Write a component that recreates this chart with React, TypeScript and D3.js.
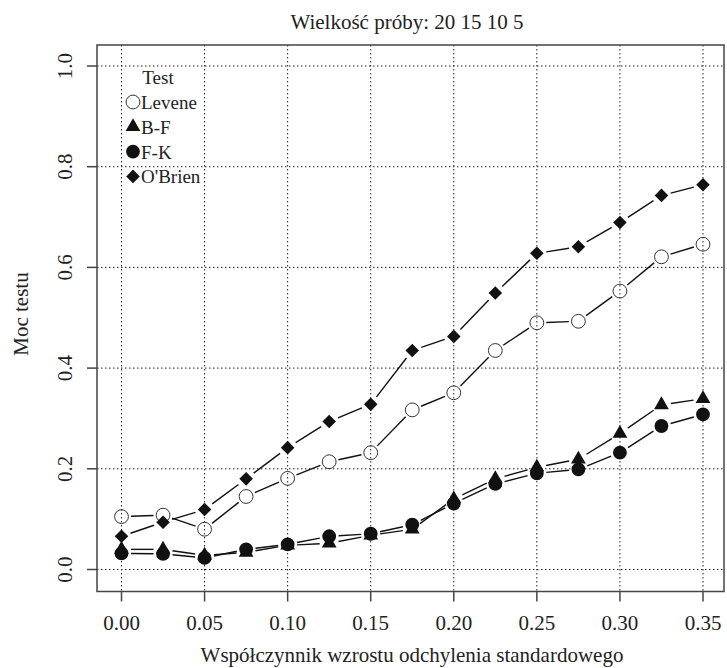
import React, { useEffect, useRef } from 'react';
import * as d3 from 'd3';

// wspolczynnik wzrostu odchylenia (os X)
const coef = [0, 0.025, 0.05, 0.075, 0.1, 0.125, 0.15, 0.175, 0.2, 0.225, 0.25, 0.275, 0.3, 0.325, 0.35];

const levene = [0.105, 0.108, 0.08, 0.145, 0.181, 0.214, 0.232, 0.317, 0.351, 0.435, 0.49, 0.493, 0.553, 0.621, 0.646];
const bf = [0.04, 0.04, 0.028, 0.034, 0.048, 0.052, 0.068, 0.08, 0.14, 0.18, 0.203, 0.219, 0.27, 0.327, 0.339];
const fk = [0.032, 0.031, 0.023, 0.04, 0.05, 0.066, 0.071, 0.089, 0.131, 0.17, 0.191, 0.199, 0.232, 0.285, 0.308];
const obrien = [0.066, 0.094, 0.119, 0.18, 0.242, 0.294, 0.328, 0.435, 0.463, 0.549, 0.628, 0.641, 0.689, 0.743, 0.764];

const xTicks = [0, 0.05, 0.1, 0.15, 0.2, 0.25, 0.3, 0.35];
const yTicks = [0, 0.2, 0.4, 0.6, 0.8, 1.0];

const seriesNames = ['Levene', 'B-F', 'F-K', "O'Brien"];
const seriesValues = [levene, bf, fk, obrien];
const seriesSymbols = ['circleOpen', 'triangle', 'circle', 'diamond'];

const FONT = "'Liberation Serif', 'Times New Roman', Times, serif";

function symbolPath(kind) {
  if (kind === 'triangle') return d3.symbol(d3.symbolTriangle, 95)();
  if (kind === 'diamond') return d3.symbol(d3.symbolSquare, 92)();
  return d3.symbol(d3.symbolCircle, 150)();
}

function App() {
  const ref = useRef(null);

  useEffect(() => {
    const svg = d3.select(ref.current);
    svg.selectAll('*').remove();

    const box = { left: 97, right: 724, top: 45, bottom: 591.5 };
    const x = d3.scaleLinear().domain([0, 0.35]).range([121.5, 703]);
    const y = d3.scaleLinear().domain([0, 1]).range([569.5, 66]);

    // siatka
    const grid = svg.append('g').attr('stroke', '#222').attr('stroke-width', 1).attr('stroke-dasharray', '1.5,2.5');
    grid.selectAll('line.gx').data(xTicks).enter().append('line')
      .attr('x1', d => x(d)).attr('x2', d => x(d))
      .attr('y1', box.top).attr('y2', box.bottom);
    grid.selectAll('line.gy').data(yTicks).enter().append('line')
      .attr('y1', d => y(d)).attr('y2', d => y(d))
      .attr('x1', box.left).attr('x2', box.right);

    // linie typu "b" z przerwami przy punktach
    const gap = 9.5;
    seriesValues.forEach(vals => {
      const pts = vals.map((v, i) => [x(coef[i]), y(v)]);
      for (let i = 0; i < pts.length - 1; i++) {
        const [x0, y0] = pts[i];
        const [x1, y1] = pts[i + 1];
        const len = Math.hypot(x1 - x0, y1 - y0);
        if (len <= 2 * gap) continue;
        const ux = (x1 - x0) / len, uy = (y1 - y0) / len;
        svg.append('line')
          .attr('x1', x0 + ux * gap).attr('y1', y0 + uy * gap)
          .attr('x2', x1 - ux * gap).attr('y2', y1 - uy * gap)
          .attr('stroke', '#111').attr('stroke-width', 1.4);
      }
    });

    // punkty
    seriesValues.forEach((vals, s) => {
      const kind = seriesSymbols[s];
      svg.append('g').selectAll('path').data(vals).enter().append('path')
        .attr('d', symbolPath(kind))
        .attr('transform', (d, i) => `translate(${x(coef[i])},${y(d)})` + (kind === 'diamond' ? ' rotate(45)' : ''))
        .attr('fill', kind === 'circleOpen' ? 'none' : '#111')
        .attr('stroke', kind === 'circleOpen' ? '#333' : 'none')
        .attr('stroke-width', 1);
    });

    // ramka
    svg.append('rect')
      .attr('x', box.left).attr('y', box.top)
      .attr('width', box.right - box.left).attr('height', box.bottom - box.top)
      .attr('fill', 'none').attr('stroke', '#444').attr('stroke-width', 1.5);

    // os X
    const ax = svg.append('g').style('font-family', FONT).style('font-size', '21px').attr('fill', '#222');
    xTicks.forEach(t => {
      ax.append('line').attr('x1', x(t)).attr('x2', x(t)).attr('y1', box.bottom).attr('y2', box.bottom + 10)
        .attr('stroke', '#444').attr('stroke-width', 1.5);
      ax.append('text').attr('x', x(t)).attr('y', 630).attr('text-anchor', 'middle').text(d3.format('.2f')(t));
    });

    // os Y
    yTicks.forEach(t => {
      ax.append('line').attr('y1', y(t)).attr('y2', y(t)).attr('x1', box.left - 10).attr('x2', box.left)
        .attr('stroke', '#444').attr('stroke-width', 1.5);
      ax.append('text').attr('transform', `translate(72,${y(t)}) rotate(-90)`)
        .attr('text-anchor', 'middle').text(d3.format('.1f')(t));
    });

    // tytuly
    const tt = svg.append('g').style('font-family', FONT).style('font-size', '21px').attr('fill', '#222');
    tt.append('text').attr('x', 407).attr('y', 29).attr('text-anchor', 'middle')
      .text('Wielkość próby: 20 15 10 5');
    tt.append('text').attr('x', 412).attr('y', 662).attr('text-anchor', 'middle')
      .text('Współczynnik wzrostu odchylenia standardowego');
    tt.append('text').attr('transform', `translate(28,314) rotate(-90)`).attr('text-anchor', 'middle')
      .text('Moc testu');

    // legenda
    const lg = svg.append('g').style('font-family', FONT).style('font-size', '19px').attr('fill', '#222');
    lg.append('text').attr('x', 158).attr('y', 84).attr('text-anchor', 'middle').text('Test');
    seriesNames.forEach((name, i) => {
      const cy = 102 + i * 24.8;
      const kind = seriesSymbols[i];
      lg.append('path').attr('d', symbolPath(kind))
        .attr('transform', `translate(133,${cy})` + (kind === 'diamond' ? ' rotate(45)' : ''))
        .attr('fill', kind === 'circleOpen' ? 'none' : '#111')
        .attr('stroke', kind === 'circleOpen' ? '#333' : 'none');
      lg.append('text').attr('x', 141).attr('y', cy + 7).text(name);
    });
  }, []);

  return (
    <svg ref={ref} width={727} height={668} style={{ position: 'absolute', left: 0, top: 0, background: '#fff' }} />
  );
}

export default App;
